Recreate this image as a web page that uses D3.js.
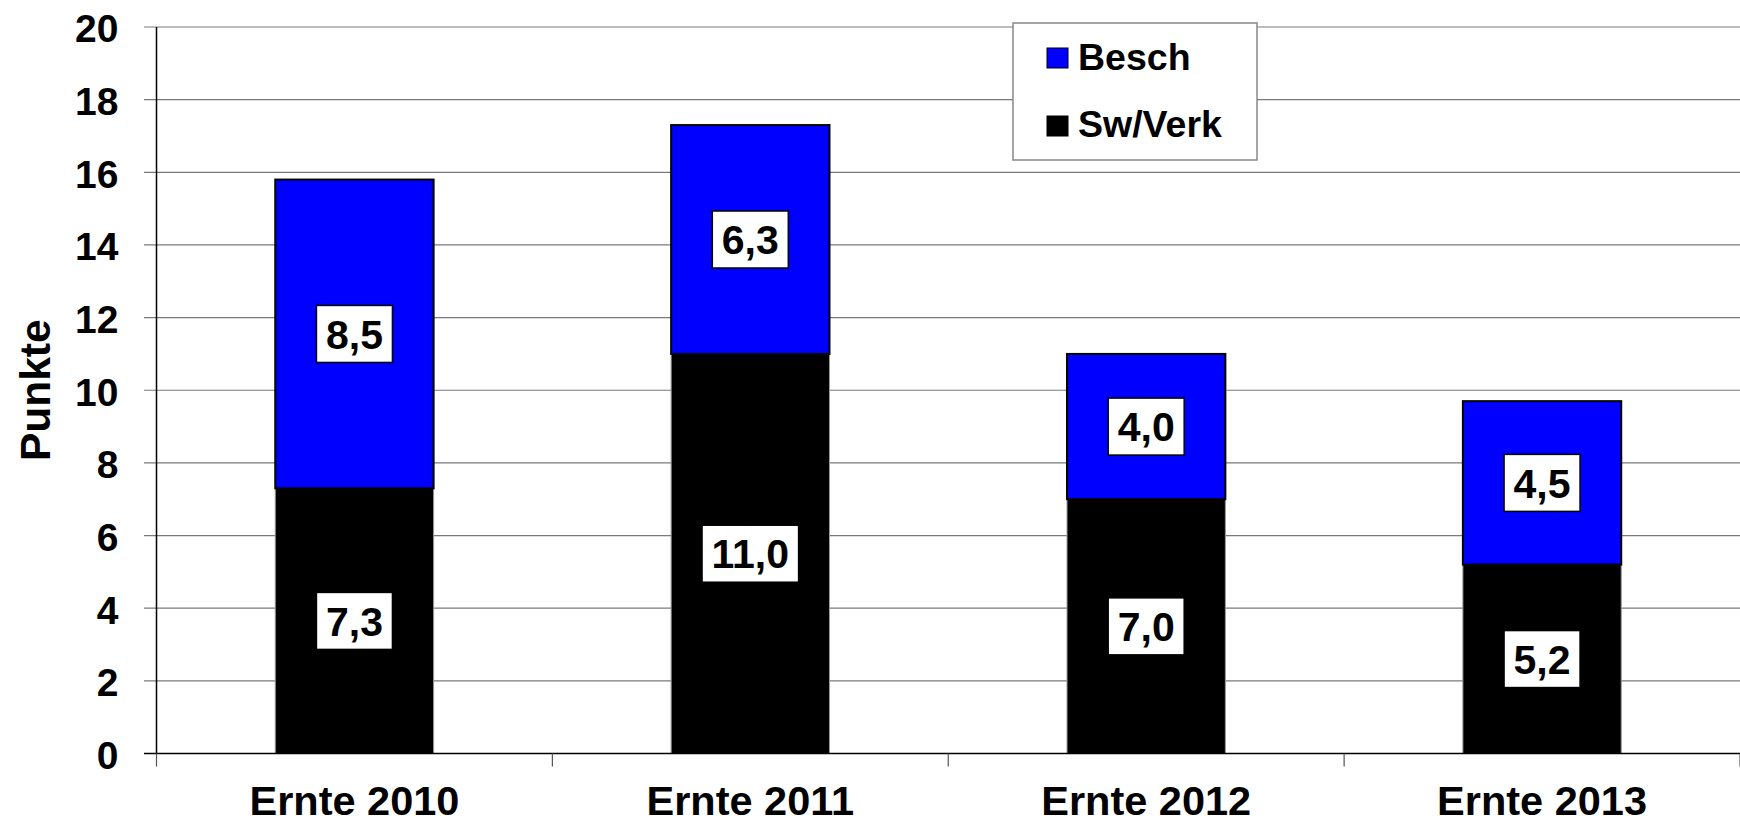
<!DOCTYPE html>
<html>
<head>
<meta charset="utf-8">
<script src="https://cdn.jsdelivr.net/npm/d3@7"></script>
<style>
    body { margin: 0; background: #ffffff; }
    svg { display: block; font-family: "Liberation Sans", Arial, sans-serif; font-weight: bold; }
</style>
</head>
<body>
<svg id="chart" width="1740" height="823"></svg>
<script>
// Chart data
const categories = ['Ernte 2010', 'Ernte 2011', 'Ernte 2012', 'Ernte 2013'];
const swVerk = [7.3, 11.0, 7.0, 5.2];
const besch = [8.5, 6.3, 4.0, 4.5];
const yTicks = [0, 2, 4, 6, 8, 10, 12, 14, 16, 18, 20];
const seriesNames = ['Besch', 'Sw/Verk'];

const svgW = 1740, svgH = 823;
const margin = { top: 27, right: 0, bottom: 69.5, left: 156.5 };
const width = svgW - margin.left - margin.right;
const height = svgH - margin.top - margin.bottom;

const svg = d3.select('#chart');
const g = svg.append('g')
    .attr('transform', `translate(${margin.left}, ${margin.top})`);

const x = d3.scaleBand()
    .domain(categories)
    .range([0, width])
    .paddingInner(0.6)
    .paddingOuter(0.3);

const y = d3.scaleLinear()
    .domain([0, 20])
    .range([height, 0]);

// Gridlines
g.selectAll('.grid')
    .data(yTicks.filter(d => d > 0))
    .enter()
    .append('line')
    .attr('x1', -12.5)
    .attr('x2', width)
    .attr('y1', d => y(d))
    .attr('y2', d => y(d))
    .attr('stroke', '#7a7a7a')
    .attr('stroke-width', 1.2);

// Y axis labels
const yAxis = g.append('g')
    .call(d3.axisLeft(y).tickValues(yTicks).tickSize(0).tickPadding(38));
yAxis.select('.domain').remove();
yAxis.selectAll('text')
    .style('font-size', '39px')
    .style('font-family', '"Liberation Sans", Arial, sans-serif')
    .style('font-weight', 'bold')
    .attr('fill', '#000')
    .attr('dy', '0.38em');

// Stacked bars
const stackData = categories.map((c, i) => ({ cat: c, sw: swVerk[i], besch: besch[i] }));

g.selectAll('.bar-sw')
    .data(stackData)
    .enter()
    .append('rect')
    .attr('x', d => x(d.cat))
    .attr('width', x.bandwidth())
    .attr('y', d => y(d.sw))
    .attr('height', d => y(0) - y(d.sw))
    .attr('fill', '#000000')
    .attr('stroke', '#9a9a9a')
    .attr('stroke-width', 1);

g.selectAll('.bar-besch')
    .data(stackData)
    .enter()
    .append('rect')
    .attr('x', d => x(d.cat))
    .attr('width', x.bandwidth())
    .attr('y', d => y(d.sw + d.besch))
    .attr('height', d => y(d.sw) - y(d.sw + d.besch))
    .attr('fill', '#0000ff')
    .attr('stroke', '#000000')
    .attr('stroke-width', 2);

// Y axis line
g.append('line')
    .attr('x1', 0).attr('x2', 0)
    .attr('y1', 0).attr('y2', height)
    .attr('stroke', '#000')
    .attr('stroke-width', 1.5);

// X axis line and ticks at band boundaries
g.append('line')
    .attr('x1', -12.5).attr('x2', width)
    .attr('y1', height).attr('y2', height)
    .attr('stroke', '#000')
    .attr('stroke-width', 1.5);

const boundaries = categories.map(c => x(c) + x.bandwidth() / 2 - x.step() / 2)
    .concat([width]);
g.selectAll('.xtick')
    .data(boundaries)
    .enter()
    .append('line')
    .attr('x1', d => d).attr('x2', d => d)
    .attr('y1', height).attr('y2', height + 13)
    .attr('stroke', '#555')
    .attr('stroke-width', 1.2);

g.selectAll('.xlabel')
    .data(categories)
    .enter()
    .append('text')
    .attr('x', d => x(d) + x.bandwidth() / 2)
    .attr('y', height + 61.5)
    .attr('text-anchor', 'middle')
    .style('font-size', '41.5px')
    .text(d => d);

// Value labels with white boxes
const fmt = v => v.toFixed(1).replace('.', ',');
const labels = [];
stackData.forEach(d => {
    labels.push({ cx: x(d.cat) + x.bandwidth() / 2, cy: y(d.sw / 2), v: d.sw });
    labels.push({ cx: x(d.cat) + x.bandwidth() / 2, cy: y(d.sw + d.besch / 2), v: d.besch });
});

labels.forEach(l => {
    const lg = g.append('g');
    const rect = lg.append('rect')
        .attr('fill', '#fff')
        .attr('stroke', '#000')
        .attr('stroke-width', 1.5);
    const t = lg.append('text')
        .attr('x', l.cx)
        .attr('y', l.cy)
        .attr('dy', '0.36em')
        .attr('text-anchor', 'middle')
        .style('font-size', '41px')
        .text(fmt(l.v));
    const tw = t.node().getComputedTextLength();
    const bw = tw + 19, bh = 57;
    rect.attr('x', l.cx - bw / 2)
        .attr('y', l.cy - bh / 2)
        .attr('width', bw)
        .attr('height', bh);
});

// Y axis title
svg.append('text')
    .attr('transform', `translate(50, ${margin.top + height / 2}) rotate(-90)`)
    .attr('text-anchor', 'middle')
    .style('font-size', '42.5px')
    .text('Punkte');

// Legend
const legend = svg.append('g').attr('transform', 'translate(1013, 23)');
legend.append('rect')
    .attr('width', 244)
    .attr('height', 137)
    .attr('fill', '#fff')
    .attr('stroke', '#888')
    .attr('stroke-width', 1.5);

const legendColors = ['#0000ff', '#000000'];
seriesNames.forEach((name, i) => {
    legend.append('rect')
        .attr('x', 34)
        .attr('y', 25 + i * 68)
        .attr('width', 21)
        .attr('height', 20)
        .attr('fill', legendColors[i])
        .attr('stroke', '#000')
        .attr('stroke-width', 1);
    legend.append('text')
        .attr('x', 65)
        .attr('y', 47 + i * 67)
        .style('font-size', '37.5px')
        .text(name);
});
</script>
</body>
</html>
